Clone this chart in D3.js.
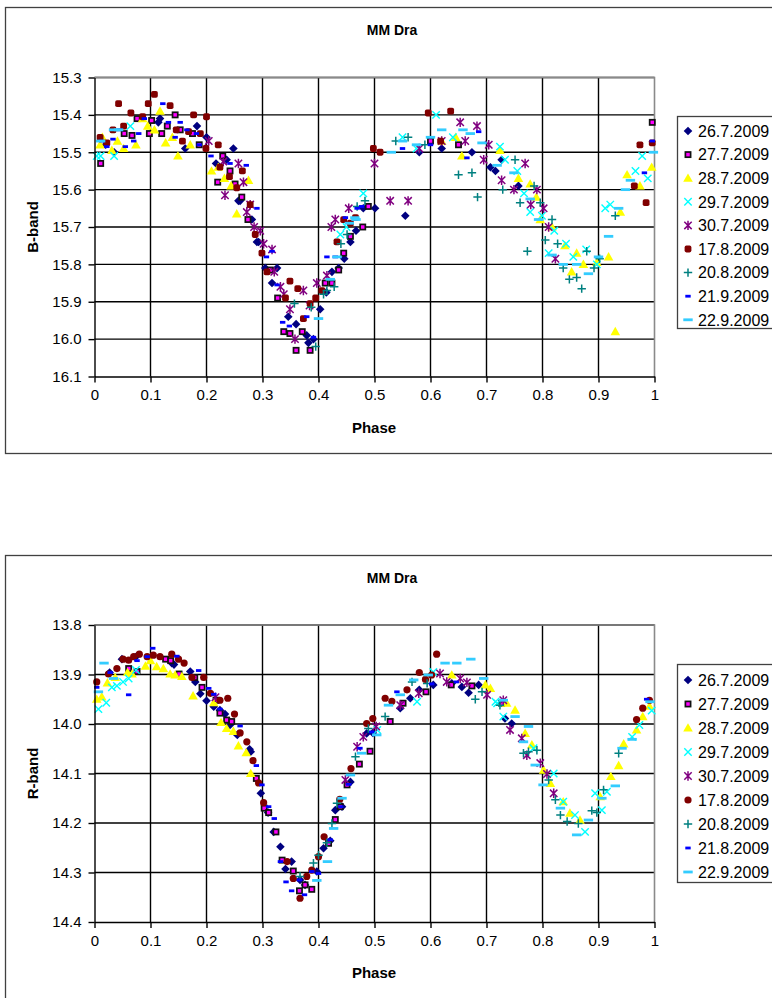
<!DOCTYPE html>
<html>
<head>
<meta charset="utf-8">
<script src="https://cdn.jsdelivr.net/npm/d3@7"></script>
<style>
  body { margin: 0; background: #fff; }
  text { font-family: "Liberation Sans", Arial, sans-serif; fill: #000; }
</style>
</head>
<body>
<svg width="772" height="998"></svg>
<script>
// ---- data (phase, magnitude) ----
const namesB = ["26.7.2009","27.7.2009","28.7.2009","29.7.2009","30.7.2009","17.8.2009","20.8.2009","21.9.2009","22.9.2009"];
const namesR = ["26.7.2009","27.7.2009","28.7.2009","29.7.2009","30.7.2009","17.8.2009","20.8.2009","21.8.2009","22.9.2009"];
const phaseTicks = [0,0.1,0.2,0.3,0.4,0.5,0.6,0.7,0.8,0.9,1];
const ticksB = [15.3,15.4,15.5,15.6,15.7,15.8,15.9,16.0,16.1];
const ticksR = [13.8,13.9,14.0,14.1,14.2,14.3,14.4];

const b267 = [[0.02,15.48],[0.035,15.5],[0.114,15.42],[0.117,15.41],[0.162,15.49],[0.183,15.43],[0.2,15.46],[0.217,15.53],[0.236,15.52],[0.248,15.49],[0.257,15.63],[0.26,15.63],[0.281,15.68],[0.29,15.74],[0.293,15.74],[0.305,15.81],[0.317,15.85],[0.326,15.81],[0.346,15.94],[0.36,15.96],[0.379,15.99],[0.382,16.01],[0.391,16.0],[0.403,15.92],[0.414,15.875],[0.424,15.82],[0.436,15.81],[0.446,15.785],[0.457,15.74],[0.467,15.71],[0.48,15.65],[0.501,15.65],[0.555,15.67],[0.58,15.5],[0.62,15.49],[0.674,15.5],[0.707,15.54],[0.716,15.55],[0.727,15.52],[0.757,15.59]];
const b277 = [[0.011,15.53],[0.053,15.45],[0.067,15.455],[0.076,15.41],[0.098,15.45],[0.102,15.415],[0.12,15.45],[0.13,15.43],[0.144,15.4],[0.153,15.44],[0.175,15.45],[0.187,15.48],[0.22,15.58],[0.229,15.51],[0.242,15.55],[0.251,15.585],[0.263,15.62],[0.274,15.68],[0.314,15.815],[0.327,15.89],[0.338,15.98],[0.349,15.985],[0.36,16.03],[0.371,15.98],[0.385,16.03],[0.412,15.85],[0.424,15.85],[0.436,15.815],[0.445,15.77],[0.457,15.725],[0.479,15.7],[0.489,15.645],[0.6,15.47],[0.65,15.48],[0.996,15.42]];
const b287 = [[0.01,15.48],[0.014,15.46],[0.031,15.495],[0.041,15.47],[0.052,15.49],[0.074,15.48],[0.086,15.41],[0.095,15.43],[0.107,15.44],[0.117,15.39],[0.127,15.475],[0.139,15.46],[0.149,15.51],[0.171,15.48],[0.209,15.55],[0.221,15.54],[0.232,15.57],[0.244,15.59],[0.254,15.665],[0.275,15.575],[0.62,15.47],[0.645,15.46],[0.656,15.51],[0.724,15.495],[0.757,15.57],[0.778,15.585],[0.789,15.62],[0.796,15.68],[0.817,15.7],[0.84,15.75],[0.852,15.82],[0.861,15.77],[0.873,15.8],[0.897,15.795],[0.918,15.78],[0.93,15.98],[0.939,15.66],[0.951,15.56],[0.974,15.59],[0.995,15.54]];
const b297 = [[0.004,15.51],[0.011,15.51],[0.035,15.51],[0.064,15.43],[0.439,15.72],[0.45,15.7],[0.48,15.61],[0.55,15.46],[0.575,15.49],[0.61,15.4],[0.64,15.46],[0.724,15.485],[0.733,15.52],[0.755,15.55],[0.767,15.61],[0.778,15.66],[0.799,15.67],[0.811,15.77],[0.821,15.71],[0.842,15.745],[0.855,15.78],[0.878,15.76],[0.897,15.8],[0.912,15.65],[0.921,15.64],[0.966,15.55],[0.978,15.51],[0.988,15.57]];
const b307 = [[0.204,15.47],[0.23,15.525],[0.233,15.615],[0.257,15.53],[0.266,15.58],[0.272,15.66],[0.278,15.64],[0.285,15.7],[0.296,15.71],[0.302,15.745],[0.317,15.76],[0.321,15.82],[0.332,15.86],[0.338,15.88],[0.349,15.92],[0.358,16.0],[0.373,15.87],[0.384,15.91],[0.397,15.85],[0.415,15.83],[0.423,15.7],[0.43,15.68],[0.454,15.65],[0.5,15.53],[0.528,15.63],[0.56,15.63],[0.58,15.49],[0.62,15.47],[0.653,15.42],[0.662,15.47],[0.683,15.43],[0.695,15.52],[0.704,15.48],[0.727,15.575],[0.749,15.6],[0.769,15.53],[0.779,15.64],[0.79,15.6],[0.802,15.65],[0.811,15.7],[0.823,15.785]];
const b178 = [[0.01,15.46],[0.022,15.475],[0.033,15.44],[0.043,15.37],[0.052,15.43],[0.065,15.395],[0.086,15.405],[0.096,15.37],[0.107,15.345],[0.135,15.375],[0.146,15.44],[0.157,15.47],[0.168,15.445],[0.177,15.4],[0.189,15.45],[0.199,15.49],[0.2,15.405],[0.221,15.48],[0.224,15.54],[0.241,15.565],[0.254,15.595],[0.264,15.55],[0.278,15.64],[0.287,15.72],[0.299,15.77],[0.308,15.82],[0.341,15.89],[0.349,15.845],[0.363,15.865],[0.373,15.945],[0.385,15.905],[0.395,15.89],[0.406,15.87],[0.433,15.74],[0.445,15.68],[0.457,15.69],[0.466,15.675],[0.498,15.49],[0.51,15.5],[0.596,15.395],[0.618,15.47],[0.636,15.39],[0.964,15.59],[0.974,15.48],[0.985,15.635],[0.996,15.475]];
const b208 = [[0.357,15.905],[0.387,15.915],[0.395,16.02],[0.409,15.88],[0.415,15.87],[0.428,15.86],[0.44,15.745],[0.451,15.72],[0.469,15.645],[0.483,15.63],[0.538,15.47],[0.56,15.46],[0.59,15.48],[0.65,15.56],[0.674,15.555],[0.684,15.62],[0.729,15.6],[0.751,15.52],[0.76,15.635],[0.773,15.765],[0.785,15.59],[0.796,15.635],[0.805,15.735],[0.817,15.68],[0.827,15.745],[0.837,15.81],[0.848,15.84],[0.861,15.835],[0.87,15.865],[0.879,15.765],[0.892,15.81],[0.902,15.785],[0.93,15.67]];
const b219 = [[0.013,15.47],[0.022,15.485],[0.033,15.465],[0.045,15.44],[0.055,15.485],[0.07,15.47],[0.079,15.45],[0.089,15.41],[0.122,15.37],[0.132,15.42],[0.144,15.46],[0.153,15.42],[0.165,15.44],[0.182,15.45],[0.187,15.48],[0.208,15.51],[0.242,15.53],[0.271,15.535],[0.29,15.65],[0.307,15.78],[0.317,15.765],[0.326,15.855],[0.336,15.955],[0.348,15.965],[0.379,15.94],[0.391,15.995],[0.415,15.78],[0.43,15.78],[0.448,15.675],[0.469,15.65],[0.477,15.645],[0.55,15.49],[0.6,15.48],[0.665,15.515],[0.686,15.445],[0.982,15.555],[0.996,15.47]];
const b229 = [[0.011,15.47],[0.034,15.44],[0.043,15.44],[0.4,15.945],[0.421,15.84],[0.433,15.78],[0.455,15.69],[0.465,15.675],[0.467,15.68],[0.53,15.5],[0.55,15.47],[0.575,15.48],[0.6,15.46],[0.62,15.44],[0.658,15.44],[0.671,15.45],[0.692,15.475],[0.719,15.535],[0.749,15.555],[0.778,15.625],[0.793,15.68],[0.817,15.775],[0.837,15.8],[0.861,15.8],[0.882,15.825],[0.9,15.78],[0.918,15.725],[0.936,15.65],[0.948,15.6],[0.957,15.575],[0.998,15.5]];

const r267 = [[0.027,13.896],[0.049,13.869],[0.073,13.865],[0.138,13.877],[0.142,13.88],[0.171,13.894],[0.18,13.915],[0.189,13.939],[0.2,13.953],[0.213,13.965],[0.224,13.972],[0.233,13.98],[0.242,14.002],[0.255,14.022],[0.277,14.051],[0.279,14.056],[0.297,14.14],[0.31,14.179],[0.32,14.218],[0.332,14.248],[0.341,14.293],[0.352,14.278],[0.367,14.315],[0.376,14.325],[0.397,14.298],[0.409,14.251],[0.421,14.236],[0.43,14.174],[0.442,14.167],[0.457,14.117],[0.486,14.019],[0.497,14.018],[0.546,13.968],[0.564,13.948],[0.58,13.931],[0.605,13.921],[0.638,13.918],[0.656,13.925],[0.668,13.937],[0.686,13.921],[0.733,13.989],[0.745,13.999]];
const r277 = [[0.061,13.888],[0.076,13.894],[0.127,13.869],[0.136,13.872],[0.151,13.899],[0.179,13.906],[0.192,13.926],[0.217,13.952],[0.224,13.978],[0.236,13.992],[0.245,13.995],[0.289,14.11],[0.303,14.17],[0.311,14.179],[0.324,14.218],[0.335,14.275],[0.355,14.297],[0.366,14.337],[0.376,14.325],[0.388,14.334],[0.418,14.241],[0.43,14.193],[0.439,14.167],[0.451,14.123],[0.473,14.081],[0.492,14.055],[0.528,13.995],[0.551,13.958],[0.592,13.935],[0.637,13.921],[0.674,13.923],[0.727,13.958]];
const r287 = [[0.004,13.95],[0.013,13.945],[0.023,13.917],[0.037,13.906],[0.059,13.896],[0.067,13.899],[0.091,13.883],[0.1,13.872],[0.111,13.884],[0.123,13.888],[0.135,13.899],[0.144,13.901],[0.156,13.904],[0.176,13.943],[0.213,13.957],[0.226,13.997],[0.236,14.009],[0.248,14.015],[0.257,14.044],[0.271,14.058],[0.279,14.1],[0.638,13.901],[0.698,13.921],[0.707,13.928],[0.736,13.958],[0.751,13.972],[0.769,14.019],[0.781,14.042],[0.802,14.093],[0.814,14.12],[0.837,14.157],[0.849,14.18],[0.867,14.194],[0.903,14.147],[0.922,14.106],[0.936,14.084],[0.945,14.04],[0.968,14.012],[0.979,13.985],[0.991,13.964]];
const r297 = [[0.007,13.97],[0.021,13.957],[0.031,13.926],[0.04,13.923],[0.051,13.915],[0.061,13.908],[0.074,13.891],[0.505,14.012],[0.576,13.955],[0.605,13.895],[0.716,13.955],[0.719,13.958],[0.73,13.985],[0.784,14.049],[0.82,14.1],[0.837,14.157],[0.858,14.184],[0.876,14.218],[0.894,14.14],[0.906,14.174],[0.915,14.137],[0.96,14.026],[0.973,14.002],[0.995,13.973]];
const r307 = [[0.216,13.946],[0.448,14.113],[0.469,14.046],[0.48,14.026],[0.503,14.005],[0.546,13.962],[0.579,13.938],[0.617,13.898],[0.629,13.915],[0.653,13.908],[0.665,13.916],[0.701,13.941],[0.73,13.952],[0.742,14.012],[0.763,14.029],[0.772,14.063],[0.796,14.079],[0.808,14.101],[0.82,14.14]];
const r178 = [[0.004,13.915],[0.025,13.899],[0.04,13.888],[0.051,13.869],[0.061,13.871],[0.07,13.864],[0.08,13.859],[0.094,13.864],[0.105,13.861],[0.117,13.864],[0.138,13.859],[0.15,13.869],[0.16,13.877],[0.174,13.906],[0.195,13.906],[0.207,13.938],[0.224,13.952],[0.238,13.948],[0.25,13.98],[0.26,14.018],[0.272,14.036],[0.283,14.074],[0.293,14.119],[0.302,14.159],[0.344,14.278],[0.355,14.312],[0.367,14.352],[0.379,14.308],[0.388,14.295],[0.4,14.268],[0.41,14.228],[0.438,14.152],[0.458,14.09],[0.486,13.999],[0.497,13.989],[0.519,13.948],[0.531,13.954],[0.558,13.931],[0.58,13.896],[0.591,13.91],[0.602,13.901],[0.611,13.859],[0.968,13.991],[0.979,13.968],[0.991,13.952]];
const r208 = [[0.367,14.308],[0.391,14.281],[0.4,14.265],[0.415,14.24],[0.424,14.201],[0.433,14.16],[0.466,14.066],[0.489,14.009],[0.519,13.985],[0.567,13.915],[0.594,13.918],[0.68,13.95],[0.692,13.935],[0.724,13.962],[0.766,14.059],[0.775,14.056],[0.79,14.053],[0.811,14.113],[0.823,14.153],[0.832,14.184],[0.844,14.197],[0.864,14.201],[0.888,14.175],[0.897,14.179],[0.909,14.133],[0.936,14.059]];
const r218 = [[0.004,13.926],[0.028,13.896],[0.061,13.941],[0.076,13.872],[0.094,13.864],[0.104,13.847],[0.147,13.863],[0.186,13.892],[0.204,13.928],[0.213,13.94],[0.224,13.97],[0.26,14.004],[0.289,14.084],[0.299,14.123],[0.311,14.167],[0.321,14.191],[0.332,14.278],[0.342,14.319],[0.352,14.337],[0.366,14.315],[0.375,14.345],[0.388,14.298],[0.4,14.302],[0.421,14.234],[0.44,14.167],[0.454,14.122],[0.474,14.049],[0.495,14.016],[0.54,13.935],[0.602,13.919],[0.646,13.915],[0.986,13.95]];
const r229 = [[0.007,13.935],[0.017,13.877],[0.034,13.908],[0.397,14.316],[0.416,14.278],[0.427,14.211],[0.442,14.15],[0.457,14.103],[0.477,14.059],[0.504,14.022],[0.525,13.962],[0.546,13.941],[0.57,13.911],[0.596,13.901],[0.626,13.877],[0.647,13.877],[0.672,13.869],[0.695,13.908],[0.73,13.952],[0.751,13.985],[0.766,14.036],[0.775,14.005],[0.787,14.083],[0.801,14.123],[0.832,14.17],[0.861,14.224],[0.882,14.194],[0.906,14.15],[0.93,14.125],[0.942,14.049],[0.96,14.031],[0.992,13.955]];

const markersB = ["diamond","square","triangle","cross","star","rsquare","plus","dash","longdash"];
const markersR = ["diamond","square","triangle","cross","star","circle","plus","dash","longdash"];

const svg = d3.select("svg");

// one marker shape at (0,0)
function drawMarker(g, type) {
  switch (type) {
    case "diamond":
      g.append("path").attr("d", "M0,-4.3L4.3,0L0,4.3L-4.3,0Z").attr("fill", "#000080"); break;
    case "square":
      g.append("rect").attr("x", -2.6).attr("y", -2.6).attr("width", 5.2).attr("height", 5.2)
        .attr("fill", "#ff00ff").attr("stroke", "#111").attr("stroke-width", 1.7); break;
    case "triangle":
      g.append("path").attr("d", "M0,-4.8L4.8,3.6L-4.8,3.6Z").attr("fill", "#ffff00"); break;
    case "cross":
      g.append("path").attr("d", "M-3.7,-3.7L3.7,3.7M-3.7,3.7L3.7,-3.7")
        .attr("stroke", "#00ffff").attr("stroke-width", 1.4); break;
    case "star":
      g.append("path").attr("d", "M-3.7,-3.7L3.7,3.7M-3.7,3.7L3.7,-3.7M0,-4.7L0,4.7")
        .attr("stroke", "#800080").attr("stroke-width", 1.5); break;
    case "rsquare":
      g.append("rect").attr("x", -3.4).attr("y", -3.4).attr("width", 6.8).attr("height", 6.8)
        .attr("rx", 1.8).attr("fill", "#800000"); break;
    case "circle":
      g.append("circle").attr("r", 3.6).attr("fill", "#800000"); break;
    case "plus":
      g.append("path").attr("d", "M-4.2,0L4.2,0M0,-4.2L0,4.2")
        .attr("stroke", "#008080").attr("stroke-width", 1.5); break;
    case "dash":
      g.append("rect").attr("x", -2.7).attr("y", -1.4).attr("width", 5.4).attr("height", 2.8).attr("fill", "#0000ff"); break;
    case "longdash":
      g.append("rect").attr("x", -4.7).attr("y", -1.4).attr("width", 9.4).attr("height", 2.8).attr("fill", "#33ccff"); break;
  }
}

function drawChart(opt) {
  const g = svg.append("g");

  // outer chart frame
  g.append("rect")
    .attr("x", 5.5).attr("y", opt.boxTop + 0.5)
    .attr("width", 800).attr("height", opt.boxHeight)
    .attr("fill", "none").attr("stroke", "#404040").attr("stroke-width", 1.3);

  g.append("text")
    .attr("x", 392).attr("y", opt.boxTop + 28)
    .attr("text-anchor", "middle")
    .style("font-size", "14px").style("font-weight", "bold")
    .text("MM Dra");

  const x = d3.scaleLinear().domain([0, 1]).range([94.5, 654.5]);
  const y = d3.scaleLinear().domain(opt.yDomain).range(opt.yRange);

  // grid
  g.append("g").selectAll("line")
    .data(opt.yTicks.slice(0, -1))
    .join("line")
      .attr("x1", x(0)).attr("x2", x(1))
      .attr("y1", d => y(d)).attr("y2", d => y(d))
      .attr("stroke", "#000").attr("stroke-width", 1.4);
  g.append("g").selectAll("line")
    .data(phaseTicks.slice(1, -1))
    .join("line")
      .attr("x1", d => x(d)).attr("x2", d => x(d))
      .attr("y1", opt.yRange[0]).attr("y2", opt.yRange[1])
      .attr("stroke", "#000").attr("stroke-width", 1.4);

  // plot area border (top/right grey)
  g.append("path")
    .attr("d", `M${x(0)},${opt.yRange[1]}H${x(1)}V${opt.yRange[0]}`)
    .attr("fill", "none").attr("stroke", "#8a8a8a").attr("stroke-width", 1.6);

  // series
  opt.series.forEach((data, i) => {
    g.append("g").selectAll("g")
      .data(data)
      .join("g")
        .attr("transform", d => `translate(${x(d[0])},${y(d[1])})`)
        .each(function() { drawMarker(d3.select(this), opt.markers[i]); });
  });

  // axes
  const fmtX = d => (d === 0 || d === 1) ? String(d) : d3.format(".1f")(d);
  const xAxis = g.append("g")
    .attr("transform", `translate(0,${opt.yRange[0]})`)
    .call(d3.axisBottom(x).tickValues(phaseTicks).tickFormat(fmtX).tickSize(6).tickSizeOuter(0).tickPadding(7));
  const yAxis = g.append("g")
    .attr("transform", `translate(${x(0)},0)`)
    .call(d3.axisLeft(y).tickValues(opt.yTicks).tickFormat(d3.format(".1f")).tickSize(6).tickSizeOuter(0).tickPadding(7));
  [xAxis, yAxis].forEach(a => {
    a.select(".domain").attr("stroke", "#000").attr("stroke-width", 1.4);
    a.selectAll(".tick line").attr("stroke", "#000").attr("stroke-width", 1.4);
    a.selectAll(".tick text").style("font-size", "15px").style("font-family", "'Liberation Sans', Arial, sans-serif").attr("fill", "#000");
  });

  g.append("text")
    .attr("x", 374).attr("y", opt.yRange[0] + 56)
    .attr("text-anchor", "middle")
    .style("font-size", "15px").style("font-weight", "bold")
    .text("Phase");
  g.append("text")
    .attr("transform", `translate(38,${(opt.yRange[0] + opt.yRange[1]) / 2}) rotate(-90)`)
    .attr("text-anchor", "middle")
    .style("font-size", "15px").style("font-weight", "bold")
    .text(opt.yLabel);

  // legend
  const lg = g.append("g");
  lg.append("rect")
    .attr("x", 677.5).attr("y", opt.legendTop + 0.5)
    .attr("width", 120).attr("height", opt.legendHeight)
    .attr("fill", "#fff").attr("stroke", "#404040").attr("stroke-width", 1.3);
  const items = lg.selectAll("g.item")
    .data(opt.names)
    .join("g")
      .attr("class", "item")
      .attr("transform", (d, i) => `translate(0,${opt.legendFirst + i * opt.legendStep})`);
  items.append("g")
    .attr("transform", "translate(688,0)")
    .each(function(d, i) { drawMarker(d3.select(this), opt.markers[i]); });
  items.append("text")
    .attr("x", 698).attr("dy", "0.36em")
    .style("font-size", "16px")
    .text(d => d);
}

drawChart({
  boxTop: 7, boxHeight: 446,
  yDomain: [16.1, 15.3], yRange: [376.5, 77.5], yTicks: ticksB,
  yLabel: "B-band",
  series: [b267, b277, b287, b297, b307, b178, b208, b219, b229],
  markers: markersB, names: namesB,
  legendTop: 116, legendHeight: 212, legendFirst: 131, legendStep: 23.6
});

drawChart({
  boxTop: 555, boxHeight: 500,
  yDomain: [14.4, 13.8], yRange: [922, 625], yTicks: ticksR,
  yLabel: "R-band",
  series: [r267, r277, r287, r297, r307, r178, r208, r218, r229],
  markers: markersR, names: namesR,
  legendTop: 664, legendHeight: 218, legendFirst: 680, legendStep: 24
});
</script>
</body>
</html>
